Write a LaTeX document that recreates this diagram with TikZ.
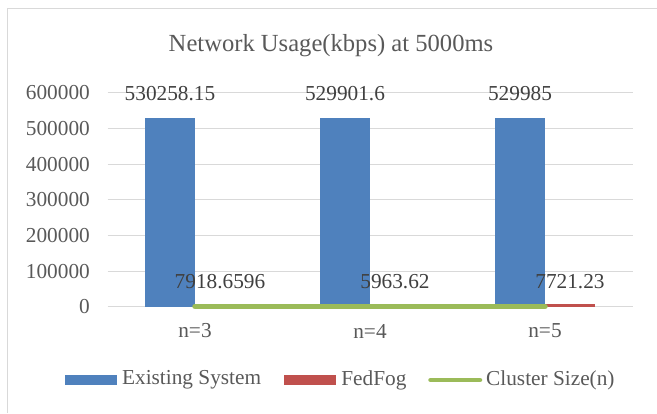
\documentclass[tikz,border=0pt]{standalone}
\usepackage{fontspec}
\setmainfont{Liberation Serif}
\usepackage{xcolor}
\usepackage{tikz}
\usetikzlibrary{calc}
\usetikzlibrary{positioning}

\definecolor{exblue}{HTML}{4F81BD}
\definecolor{fogred}{HTML}{C0504D}
\definecolor{sizegreen}{HTML}{9BBB59}
\definecolor{gridgray}{HTML}{D9D9D9}
\definecolor{textgray}{HTML}{595959}
\definecolor{valgray}{HTML}{404040}

\begin{document}
\begin{tikzpicture}[x=1pt,y=1pt]
% 1 = 1px, bar values in thousands
    \def\XLEFT{107.5}
    \def\XRIGHT{632.5}
    \def\YZERO{106}
    \def\YUNIT{0.357} %height of 1000 kbps
    \def\BARW{50} %width of bars
    \def\CATONE{195}
    \def\CATTWO{370}
    \def\CATTHREE{545}
    \def\YVALEX{319}
    \def\YVALFOG{131.5}

    \tikzset{
      txt/.style={inner sep=0pt, text=textgray,
        font=\fontsize{21.3}{24}\selectfont},
      val/.style={txt, text=valgray},
      gridline/.style={draw=gridgray, line width=1pt},
      key/.style={inner sep=0pt, minimum width=52pt, minimum height=10.5pt},
    }

    \useasboundingbox (0,0) rectangle (657,413);
    % chart frame
    \draw[gridgray, line width=1pt] (7.5,0) -- (7.5,404) -- (657,404);

    % TITLE
    \node[txt, font=\fontsize{24.6}{28}\selectfont] (title) at (331,367)
        {Network Usage(kbps) at 5000ms};

    % GRID
    \foreach \v in {0,100,...,600} {
      \draw[gridline] (\XLEFT,{\YZERO+\v*\YUNIT}) -- (\XRIGHT,{\YZERO+\v*\YUNIT});
    }

    % Y LABELS
    \node[txt, anchor=east] (YA) at (90,{\YZERO}) {0};
    \node[txt, anchor=east] (YB) at (90,{\YZERO+100*\YUNIT}) {100000};
    \node[txt, anchor=east] (YC) at (90,{\YZERO+200*\YUNIT}) {200000};
    \node[txt, anchor=east] (YD) at (90,{\YZERO+300*\YUNIT}) {300000};
    \node[txt, anchor=east] (YE) at (90,{\YZERO+400*\YUNIT}) {400000};
    \node[txt, anchor=east] (YF) at (90,{\YZERO+500*\YUNIT}) {500000};
    \node[txt, anchor=east] (YG) at (90,{\YZERO+600*\YUNIT}) {600000};

    % EXISTING SYSTEM bars
    \fill[exblue] ({\CATONE-\BARW},\YZERO) rectangle (\CATONE,{\YZERO+530.25815*\YUNIT});
    \fill[exblue] ({\CATTWO-\BARW},\YZERO) rectangle (\CATTWO,{\YZERO+529.9016*\YUNIT});
    \fill[exblue] ({\CATTHREE-\BARW},\YZERO) rectangle (\CATTHREE,{\YZERO+529.985*\YUNIT});

    % FEDFOG bars
    \fill[fogred] (\CATONE,\YZERO) rectangle ({\CATONE+\BARW},{\YZERO+7.9186596*\YUNIT});
    \fill[fogred] (\CATTWO,\YZERO) rectangle ({\CATTWO+\BARW},{\YZERO+5.96362*\YUNIT});
    \fill[fogred] (\CATTHREE,\YZERO) rectangle ({\CATTHREE+\BARW},{\YZERO+7.72123*\YUNIT});

    % CLUSTER SIZE line
    \coordinate (GA) at (\CATONE,{\YZERO+0.5});
    \coordinate (GB) at (\CATTWO,{\YZERO+0.5});
    \coordinate (GC) at (\CATTHREE,{\YZERO+0.5});
    \draw[sizegreen, line width=5.5pt, line cap=round, line join=round]
        (GA) -- (GB) -- (GC);

    % value labels
    \node[val] (EXONE) at ({\CATONE-\BARW/2},\YVALEX) {530258.15};
    \node[val] (EXTWO) at ({\CATTWO-\BARW/2},\YVALEX) {529901.6};
    \node[val] (EXTHREE) at ({\CATTHREE-\BARW/2},\YVALEX) {529985};
    \node[val] (FOGONE) at ({\CATONE+\BARW/2},\YVALFOG) {7918.6596};
    \node[val] (FOGTWO) at ({\CATTWO+\BARW/2},\YVALFOG) {5963.62};
    \node[val] (FOGTHREE) at ({\CATTHREE+\BARW/2},\YVALFOG) {7721.23};

    % CATEGORY LABELS
    \node[txt] (NA) at (\CATONE,82) {n=3};
    \node[txt] (NB) at (\CATTWO,82) {n=4};
    \node[txt] (NC) at (\CATTHREE,82) {n=5};

    % LEGEND
    \node[key, fill=exblue] (KEYEX) at (91,33) {};
    \node[txt, right=4.7pt of KEYEX] (LEGEX) {Existing System};
    \node[key, fill=fogred] (KEYFOG) at (310,33) {};
    \node[txt, right=5pt of KEYFOG] (LEGFOG) {FedFog};
    \coordinate (KEYSIZEA) at (430.5,33);
    \coordinate (KEYSIZEB) at (480,33);
    \draw[sizegreen, line width=4.5pt, line cap=round] (KEYSIZEA) -- (KEYSIZEB);
    \node[txt, right=6pt of KEYSIZEB] (LEGSIZE) {Cluster Size(n)};

\end{tikzpicture}
\end{document}
